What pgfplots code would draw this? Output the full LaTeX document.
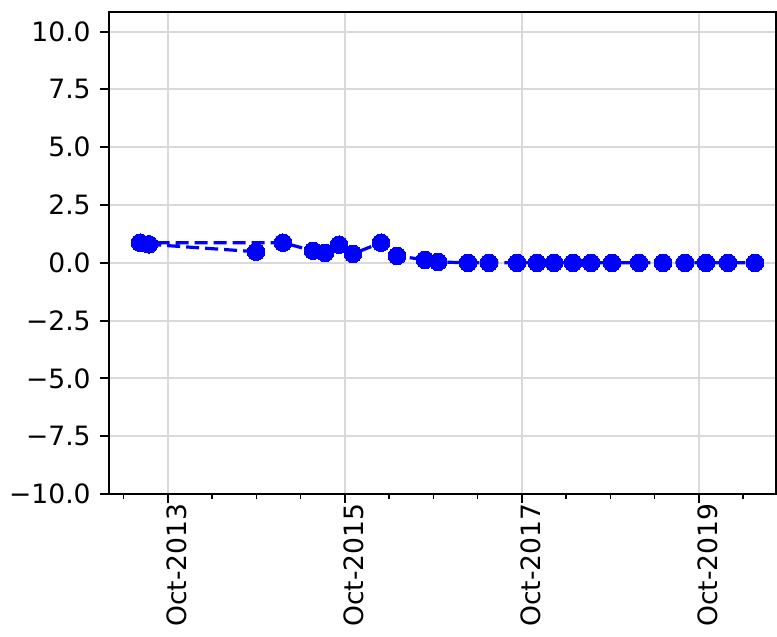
\documentclass[border=0pt]{standalone}
\usepackage{fontspec}
\setmainfont{DejaVu Sans}
\usepackage{pgfplots}
\pgfplotsset{compat=1.18}
\begin{document}
\begin{tikzpicture}
\begin{axis}[
  scale only axis,
  width=333.5pt, height=241pt,
  xmin=2013.083, xmax=2020.62,
  ymin=-10, ymax=10.85,
  axis line style={line width=1pt, black},
  tick align=outside,
  xtick pos=lower, ytick pos=left,
  major tick length=4.5pt, minor tick length=2.5pt,
  every tick/.style={black, line width=1pt},
  minor tick style={black, line width=0.75pt},
  xtick={2013.748,2015.748,2017.748,2019.748},
  xticklabels={Oct-2013,Oct-2015,Oct-2017,Oct-2019},
  minor xtick={2013.247,2014.247,2014.748,2015.247,2016.247,2016.748,2017.247,2018.247,2018.748,2019.247,2020.247},
  ytick={-10,-7.5,-5,-2.5,0,2.5,5,7.5,10},
  yticklabels={−10.0,−7.5,−5.0,−2.5,0.0,2.5,5.0,7.5,10.0},
  xmajorgrids, ymajorgrids,
  major grid style={gray!30, line width=1pt},
  tick label style={font=\fontsize{13.3}{16}\selectfont},
  x tick label style={rotate=90, anchor=east, inner sep=0pt, yshift=-4.5pt},
  y tick label style={inner sep=0pt, xshift=-4.5pt},
]
\addplot[blue, line width=1.6pt, dash pattern=on 6.5pt off 3pt,
  mark=*, mark size=4.4pt, mark options={solid, fill=blue, draw=blue, line width=0pt}]
coordinates {
(2014.744,0.48)
(2013.535,0.80)
(2013.434,0.87)
(2015.049,0.87)
(2015.388,0.52)
(2015.524,0.43)
(2015.682,0.78)
(2015.840,0.39)
(2016.157,0.87)
(2016.338,0.30)
(2016.654,0.13)
(2016.801,0.04)
(2017.140,0)
(2017.377,0)
(2017.694,0)
(2017.919,0)
(2018.112,0)
(2018.326,0)
(2018.530,0)
(2018.767,0)
(2019.072,0)
(2019.343,0)
(2019.592,0)
(2019.829,0)
(2020.078,0)
(2020.383,0)
};
\end{axis}
\path ([shift={(-54.5pt,-71.5pt)}]current axis.south west) rectangle ([shift={(0.5pt,6pt)}]current axis.north east);
\end{tikzpicture}
\end{document}
